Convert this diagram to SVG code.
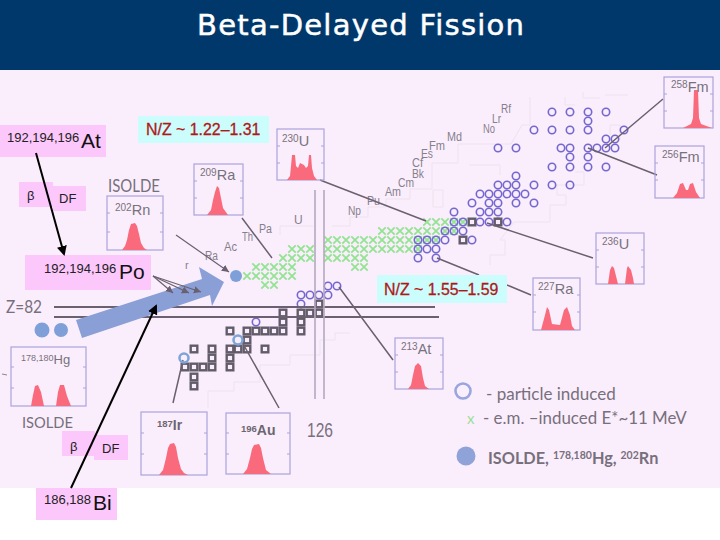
<svg xmlns="http://www.w3.org/2000/svg" width="720" height="540" viewBox="0 0 720 540">
<style>
text{font-family:"Liberation Sans",Arial,sans-serif}
.el{fill:#85808c;font-size:12px}
.hl{fill:#77727c;font-size:14.5px}
.hs{font-size:10px}
.cal{font-family:Lato,"Open Sans",sans-serif;fill:#77707c}
.blk{fill:#222;font-size:13px}
.big{fill:#111;font-size:21px}
.nz{fill:#b01818;font-size:15.9px;stroke:#b01818;stroke-width:.3px}
.pk{fill:#f96b7c}
.fr{fill:none;stroke:#aaa3dc;stroke-width:1.2}
.tk{fill:none;stroke:#aaa3dc;stroke-width:1}
.ln{fill:none;stroke:#6b6070;stroke-width:1.5}
.pink{fill:#fcc8fc}
.cy{fill:#ccfdfd}
.xs use{stroke:#92e492;stroke-width:1.8;fill:none}
.rs use{stroke:#7468d0;stroke-width:1.6;fill:none}
.ss use{stroke:#625c6a;stroke-width:2.4;fill:none}
</style>
<defs>
<path id="x" d="M-3.7-3.7L3.7 3.7M3.7-3.7L-3.7 3.7"/>
<circle id="r" r="3.7"/>
<rect id="s" x="-3.3" y="-3.3" width="6.6" height="6.6"/>
<marker id="ab" markerWidth="5" markerHeight="5" refX="4" refY="2.5" orient="auto"><path d="M0 0L5 2.5L0 5Z" fill="#000"/></marker>
<marker id="as" markerWidth="7" markerHeight="7" refX="6" refY="3" orient="auto"><path d="M0 0L6 3L0 6Z" fill="#6b6070"/></marker>
</defs>
<rect width="720" height="540" fill="#fff"/>
<rect y="70" width="720" height="418" fill="#fbeefc"/>
<rect width="720" height="70" fill="#00386b"/>
<text x="197" y="35" fill="#fff" stroke="#fff" stroke-width=".5" style="font-family:'DejaVu Sans',sans-serif;font-size:29px" textLength="327" lengthAdjust="spacing">Beta-Delayed Fission</text>

<g id="chart-outline" fill="none" stroke="#ece2ee" stroke-width="1">
<path d="M280 235V226H313M332 226H350V217H368V207H386V199H410V189H432V163H458V144H480H511L522 125H530V97M565 97V105H575M583 92V98H600M605 95H628M610 135V125H620V140"/>
<path d="M433 190H443V207H433ZM469 165H500V175M575 172H584V185H557V195H566V205H550V222H514L500 240H505V255H490V265"/>
<path d="M208 408V391H234V382H260V365H290V355H320V340H335V333H350"/>
</g>

<g id="crosses" class="xs">
<use href="#x" x="427" y="222"/><use href="#x" x="436" y="222"/><use href="#x" x="445" y="222"/><use href="#x" x="454" y="222"/><use href="#x" x="463" y="222"/>
<use href="#x" x="382" y="231"/><use href="#x" x="391" y="231"/><use href="#x" x="400" y="231"/><use href="#x" x="409" y="231"/><use href="#x" x="418" y="231"/><use href="#x" x="427" y="231"/><use href="#x" x="436" y="231"/><use href="#x" x="445" y="231"/><use href="#x" x="454" y="231"/>
<use href="#x" x="328" y="240"/><use href="#x" x="337" y="240"/><use href="#x" x="346" y="240"/><use href="#x" x="355" y="240"/><use href="#x" x="364" y="240"/><use href="#x" x="373" y="240"/><use href="#x" x="382" y="240"/><use href="#x" x="391" y="240"/><use href="#x" x="400" y="240"/><use href="#x" x="409" y="240"/><use href="#x" x="418" y="240"/><use href="#x" x="427" y="240"/><use href="#x" x="436" y="240"/>
<use href="#x" x="292" y="249"/><use href="#x" x="301" y="249"/><use href="#x" x="310" y="249"/><use href="#x" x="328" y="249"/><use href="#x" x="337" y="249"/><use href="#x" x="346" y="249"/><use href="#x" x="355" y="249"/><use href="#x" x="364" y="249"/><use href="#x" x="373" y="249"/><use href="#x" x="382" y="249"/><use href="#x" x="391" y="249"/><use href="#x" x="400" y="249"/><use href="#x" x="409" y="249"/><use href="#x" x="418" y="249"/>
<use href="#x" x="283" y="258"/><use href="#x" x="292" y="258"/><use href="#x" x="301" y="258"/><use href="#x" x="310" y="258"/><use href="#x" x="328" y="258"/><use href="#x" x="337" y="258"/><use href="#x" x="346" y="258"/><use href="#x" x="355" y="258"/><use href="#x" x="364" y="258"/>
<use href="#x" x="256" y="267"/><use href="#x" x="265" y="267"/><use href="#x" x="274" y="267"/><use href="#x" x="283" y="267"/><use href="#x" x="292" y="267"/><use href="#x" x="355" y="267"/><use href="#x" x="364" y="267"/>
<use href="#x" x="247" y="276"/><use href="#x" x="256" y="276"/><use href="#x" x="265" y="276"/><use href="#x" x="274" y="276"/><use href="#x" x="283" y="276"/><use href="#x" x="292" y="276"/>
<use href="#x" x="265" y="285"/><use href="#x" x="274" y="285"/>
</g>

<g id="rings" class="rs">
<use href="#r" x="552" y="112"/><use href="#r" x="570" y="112"/><use href="#r" x="588" y="112"/><use href="#r" x="606" y="112"/><use href="#r" x="588" y="121"/>
<use href="#r" x="534" y="130"/><use href="#r" x="552" y="130"/><use href="#r" x="570" y="130"/><use href="#r" x="588" y="130"/><use href="#r" x="624" y="130"/>
<use href="#r" x="606" y="139"/><use href="#r" x="615" y="139"/>
<use href="#r" x="498" y="148"/><use href="#r" x="516" y="148"/><use href="#r" x="561" y="148"/><use href="#r" x="570" y="148"/><use href="#r" x="588" y="148"/><use href="#r" x="597" y="148"/><use href="#r" x="606" y="148"/><use href="#r" x="615" y="148"/>
<use href="#r" x="570" y="157"/><use href="#r" x="588" y="157"/>
<use href="#r" x="552" y="167"/><use href="#r" x="570" y="167"/><use href="#r" x="588" y="167"/><use href="#r" x="606" y="167"/>
<use href="#r" x="516" y="176"/>
<use href="#r" x="498" y="185"/><use href="#r" x="507" y="185"/><use href="#r" x="516" y="185"/><use href="#r" x="534" y="185"/><use href="#r" x="552" y="185"/><use href="#r" x="570" y="185"/>
<use href="#r" x="480" y="194"/><use href="#r" x="489" y="194"/><use href="#r" x="498" y="194"/><use href="#r" x="507" y="194"/><use href="#r" x="516" y="194"/><use href="#r" x="525" y="194"/>
<use href="#r" x="472" y="203"/><use href="#r" x="489" y="203"/><use href="#r" x="498" y="203"/><use href="#r" x="516" y="203"/><use href="#r" x="534" y="203"/>
<use href="#r" x="454" y="212"/><use href="#r" x="480" y="212"/><use href="#r" x="489" y="212"/><use href="#r" x="498" y="212"/>
<use href="#r" x="454" y="222"/><use href="#r" x="463" y="222"/><use href="#r" x="480" y="222"/><use href="#r" x="489" y="222"/><use href="#r" x="498" y="222"/><use href="#r" x="507" y="222"/>
<use href="#r" x="445" y="231"/><use href="#r" x="454" y="231"/><use href="#r" x="463" y="231"/>
<use href="#r" x="418" y="240"/><use href="#r" x="427" y="240"/><use href="#r" x="436" y="240"/><use href="#r" x="445" y="240"/><use href="#r" x="472" y="240"/>
<use href="#r" x="418" y="249"/><use href="#r" x="427" y="249"/><use href="#r" x="436" y="249"/>
<use href="#r" x="418" y="258"/><use href="#r" x="436" y="258"/>
<use href="#r" x="328" y="286"/><use href="#r" x="337" y="286"/>
<use href="#r" x="301" y="295"/><use href="#r" x="310" y="295"/><use href="#r" x="319" y="295"/><use href="#r" x="328" y="295"/>
<use href="#r" x="301" y="304"/><use href="#r" x="256" y="322"/>
</g>

<g id="squares" class="ss">
<use href="#s" x="472" y="222"/><use href="#s" x="498" y="222"/><use href="#s" x="463" y="240"/>
<use href="#s" x="283" y="313"/><use href="#s" x="283" y="322"/><use href="#s" x="283" y="331"/><use href="#s" x="274" y="331"/><use href="#s" x="265" y="331"/><use href="#s" x="256" y="331"/><use href="#s" x="247" y="331"/><use href="#s" x="230" y="331"/><use href="#s" x="247" y="340"/><use href="#s" x="247" y="349"/><use href="#s" x="238" y="349"/><use href="#s" x="230" y="349"/><use href="#s" x="230" y="358"/><use href="#s" x="230" y="367"/><use href="#s" x="265" y="349"/>
<use href="#s" x="301" y="313"/><use href="#s" x="301" y="322"/><use href="#s" x="301" y="331"/><use href="#s" x="310" y="313"/><use href="#s" x="319" y="313"/><use href="#s" x="319" y="304"/>
<use href="#s" x="212" y="349"/><use href="#s" x="212" y="358"/><use href="#s" x="212" y="367"/><use href="#s" x="203" y="367"/><use href="#s" x="194" y="367"/><use href="#s" x="185" y="367"/><use href="#s" x="194" y="377"/><use href="#s" x="194" y="386"/><use href="#s" x="194" y="349"/>
</g>

<g id="elements" class="el">
<text x="185" y="269" style="font-size:11px">r</text>
<text x="205" y="260" textLength="13" lengthAdjust="spacingAndGlyphs">Ra</text><text x="224" y="251" textLength="13" lengthAdjust="spacingAndGlyphs">Ac</text><text x="242" y="241" textLength="11" lengthAdjust="spacingAndGlyphs">Th</text><text x="259" y="233" textLength="13" lengthAdjust="spacingAndGlyphs">Pa</text><text x="294" y="224">U</text><text x="348" y="215" textLength="13" lengthAdjust="spacingAndGlyphs">Np</text><text x="367" y="205" textLength="13" lengthAdjust="spacingAndGlyphs">Pu</text><text x="385" y="196" textLength="16" lengthAdjust="spacingAndGlyphs">Am</text><text x="398" y="187" textLength="16" lengthAdjust="spacingAndGlyphs">Cm</text><text x="412" y="178" textLength="12" lengthAdjust="spacingAndGlyphs">Bk</text><text x="412" y="167" textLength="11" lengthAdjust="spacingAndGlyphs">Cf</text><text x="421" y="158" textLength="12" lengthAdjust="spacingAndGlyphs">Es</text><text x="429" y="150" textLength="16" lengthAdjust="spacingAndGlyphs">Fm</text><text x="447" y="141" textLength="15" lengthAdjust="spacingAndGlyphs">Md</text><text x="483" y="133" textLength="12" lengthAdjust="spacingAndGlyphs">No</text><text x="492" y="123" textLength="9" lengthAdjust="spacingAndGlyphs">Lr</text><text x="501" y="113" textLength="10" lengthAdjust="spacingAndGlyphs">Rf</text>
</g>

<g id="z82-lines">
<path d="M54 307H435M54 317H439" fill="none" stroke="#6b6070" stroke-width="2"/>
<path d="M315 190V399M324 190V399" fill="none" stroke="#b5a8bd" stroke-width="1.6"/>
<text x="6" y="313" class="cal" style="font-size:17px" textLength="36" lengthAdjust="spacingAndGlyphs">Z=82</text>
<path d="M2 374L7 375" stroke="#888" stroke-width="1"/>
<text x="307" y="437" class="cal" style="font-family:'Liberation Sans';font-size:21px" textLength="26" lengthAdjust="spacingAndGlyphs">126</text>
</g>

<g id="connectors" class="ln">
<path d="M320 180L426 221M242 218L272 258M437 258L479 275M507 285L531 295M339 287L393 360M487 223L593 258M605 148L663 99M588 148L657 175M183 360L173 403M242 342L279 408"/>
</g>

<polygon id="big-arrow" points="76,320 82,338 210,295 212,306 224,282 199,267 202,279" fill="#8a9fd6"/>
<g id="arrows-small" class="ln" style="stroke-width:1.2">
<path d="M176 235L229 272" marker-end="url(#as)"/>
<path d="M153 276L173 293" marker-end="url(#as)"/><path d="M153 276L189 293" marker-end="url(#as)"/><path d="M153 276L201 292" marker-end="url(#as)"/>
</g>
<g id="dots" fill="#7f9fd8">
<circle cx="236" cy="276" r="6"/><circle cx="42" cy="330" r="7.5"/><circle cx="61" cy="330" r="7"/>
<circle cx="238" cy="340" r="4.5" fill="none" stroke="#7fa5d8" stroke-width="2.6"/><circle cx="184" cy="358" r="4.5" fill="none" stroke="#7fa5d8" stroke-width="2.6"/>
</g>

<g id="hist-202Rn"><rect class="fr" x="107" y="196" width="56" height="54"/><path class="tk" d="M107 213h3M107 232h3M163 213h-3M163 232h-3"/><path class="pk" d="M122 250L125 246L127 240L129 230L131 224L135 223L137 226L139 234L141 243L144 248L147 250Z"/><text class="hl" x="115" y="215"><tspan class="hs" dy="-4">202</tspan><tspan dy="4">Rn</tspan></text></g>
<text x="108" y="192" class="cal" style="font-size:17px" textLength="52" lengthAdjust="spacingAndGlyphs">ISOLDE</text>
<g id="hist-209Ra"><rect class="fr" x="194" y="164" width="49" height="51"/><path class="tk" d="M194 181h3M194 198h3M243 181h-3M243 198h-3"/><path class="pk" d="M207 215L211 210L213 200L215 192L217 186L219 188L221 198L223 208L228 215Z"/><text class="hl" x="200" y="180"><tspan class="hs" dy="-4">209</tspan><tspan dy="4">Ra</tspan></text></g>
<g id="hist-230U"><rect class="fr" x="277" y="129" width="47" height="51"/><path class="tk" d="M277 146h3M277 163h3M324 146h-3M324 163h-3"/><path class="pk" d="M287 180L290 176L291 166L292 155L295 155L296 166L298 168L300 163L304 165L306 168L308 166L309 155L311 155L312 168L314 176L317 180Z"/><text class="hl" x="282" y="146"><tspan class="hs" dy="-4">230</tspan><tspan dy="4">U</tspan></text></g>
<g id="hist-258Fm"><rect class="fr" x="664" y="77" width="49" height="51"/><path class="tk" d="M664 94h3M664 111h3M713 94h-3M713 111h-3"/><path class="pk" d="M683 128L691 124L693 118L694 90L698 90L699 118L701 124L712 128Z"/><text class="hl" x="671" y="92"><tspan class="hs" dy="-4">258</tspan><tspan dy="4">Fm</tspan></text></g>
<g id="hist-256Fm"><rect class="fr" x="655" y="146" width="49" height="52"/><path class="tk" d="M655 163h3M655 180h3M704 163h-3M704 180h-3"/><path class="pk" d="M673 198L677 193L680 184L683 183L686 190L688 190L690 184L693 183L696 192L700 198Z"/><text class="hl" x="662" y="162"><tspan class="hs" dy="-4">256</tspan><tspan dy="4">Fm</tspan></text></g>
<g id="hist-236U"><rect class="fr" x="596" y="233" width="48" height="51"/><path class="tk" d="M596 250h3M596 267h3M644 250h-3M644 267h-3"/><path class="pk" d="M608 284L610 270L612 266L614 268L616 276L618 284ZM625 284L627 268L628 266L631 270L633 278L634 284Z"/><text class="hl" x="602" y="249"><tspan class="hs" dy="-4">236</tspan><tspan dy="4">U</tspan></text></g>
<g id="hist-227Ra"><rect class="fr" x="533" y="278" width="47" height="52"/><path class="tk" d="M533 295h3M533 312h3M580 295h-3M580 312h-3"/><path class="pk" d="M541 330L545 315L547 307L549 310L552 324L560 325L564 310L567 307L570 315L572 326L575 330Z"/><text class="hl" x="538" y="294"><tspan class="hs" dy="-4">227</tspan><tspan dy="4">Ra</tspan></text></g>
<g id="hist-213At"><rect class="fr" x="395" y="338" width="48" height="51"/><path class="tk" d="M395 355h3M395 372h3M443 355h-3M443 372h-3"/><path class="pk" d="M408 389L411 385L413 375L415 366L418 363L421 366L423 378L425 386L429 389Z"/><text class="hl" x="401" y="354"><tspan class="hs" dy="-4">213</tspan><tspan dy="4">At</tspan></text></g>
<g id="hist-Hg"><rect class="fr" x="11" y="347" width="75" height="59"/><path class="tk" d="M11 367h3M11 388h3M86 367h-3M86 388h-3"/><path class="pk" d="M31 406L33 395L35 386L38 385L41 392L44 406ZM56 406L58 392L60 385L64 385L67 396L71 406Z"/><text class="hl" x="21" y="364" style="font-size:13px"><tspan class="hs" style="font-size:9px" dy="-3">178,180</tspan><tspan dy="3">Hg</tspan></text></g>
<text x="22" y="428" class="cal" style="font-size:16px" textLength="51" lengthAdjust="spacingAndGlyphs">ISOLDE</text>
<g id="hist-187Ir"><rect class="fr" x="141" y="412" width="66" height="63"/><path class="tk" d="M141 433h3M141 454h3M207 433h-3M207 454h-3"/><path class="pk" d="M159 475L163 470L166 458L168 448L170 444L174 443L176 447L178 458L181 469L184 473L188 475Z"/><text x="157" y="430" style="font-size:14px;font-weight:bold" fill="#6c6670"><tspan style="font-size:9.5px" dy="-3">187</tspan><tspan dy="3">Ir</tspan></text></g>
<g id="hist-196Au"><rect class="fr" x="226" y="413" width="64" height="61"/><path class="tk" d="M226 433h3M226 454h3M290 433h-3M290 454h-3"/><path class="pk" d="M243 474L247 469L250 458L252 449L254 445L259 444L261 448L263 458L266 470L271 474Z"/><text x="241" y="435" style="font-size:14px;font-weight:bold" fill="#6c6670"><tspan style="font-size:9.5px" dy="-3">196</tspan><tspan dy="3">Au</tspan></text></g>

<g id="legend">
<circle cx="463" cy="391" r="7.5" fill="none" stroke="#9aa5e0" stroke-width="2.6"/>
<text x="486" y="400" class="cal" style="font-size:17px">- particle induced</text>
<text x="467" y="424" style="font-family:Lato,sans-serif;font-size:15px" fill="#9ae09a">x</text>
<text x="483" y="424" class="cal" style="font-size:16.9px">- e.m. –induced E*~11 MeV</text>
<circle cx="466" cy="456" r="9.5" fill="#8fa3d8"/>
<text x="488" y="464" class="cal" style="font-size:16.3px;font-weight:bold">ISOLDE, <tspan style="font-size:10.5px" dy="-5">178,180</tspan><tspan dy="5">Hg, </tspan><tspan style="font-size:10.5px" dy="-5">202</tspan><tspan dy="5">Rn</tspan></text>
</g>

<g id="label-nz1"><rect class="cy" x="138" y="116" width="131" height="27"/><text class="nz" x="146" y="135">N/Z ~ 1.22–1.31</text></g>
<g id="label-nz2"><rect class="cy" x="377" y="275" width="130" height="28"/><text class="nz" x="384" y="295">N/Z ~ 1.55–1.59</text></g>
<g id="node-At"><rect class="pink" y="125" width="106" height="32"/><text class="blk" x="7" y="142">192,194,196</text><text class="big" x="81" y="148">At</text></g>
<g id="label-b1"><rect class="pink" x="19" y="182" width="34" height="25"/><rect class="pink" x="53" y="186" width="33" height="25"/><text class="blk" x="27" y="200">β</text><text class="blk" x="59" y="203">DF</text></g>
<g id="node-Po"><rect class="pink" x="25" y="255" width="126" height="35"/><text class="blk" x="44" y="273">192,194,196</text><text class="big" x="119" y="279">Po</text></g>
<g id="label-b2"><rect class="pink" x="62" y="431" width="33" height="25"/><rect class="pink" x="94" y="435" width="34" height="25"/><text class="blk" x="70" y="451">β</text><text class="blk" x="102" y="453">DF</text></g>
<g id="node-Bi"><rect class="pink" x="36" y="488" width="81" height="32"/><text class="blk" x="44" y="504">186,188</text><text class="big" x="93" y="510">Bi</text></g>

<g id="main-arrows" fill="none" stroke="#000" stroke-width="2">
<path d="M36 153L64 254" marker-end="url(#ab)"/>
<path d="M71 488L156 306" marker-end="url(#ab)"/>
</g>
</svg>
